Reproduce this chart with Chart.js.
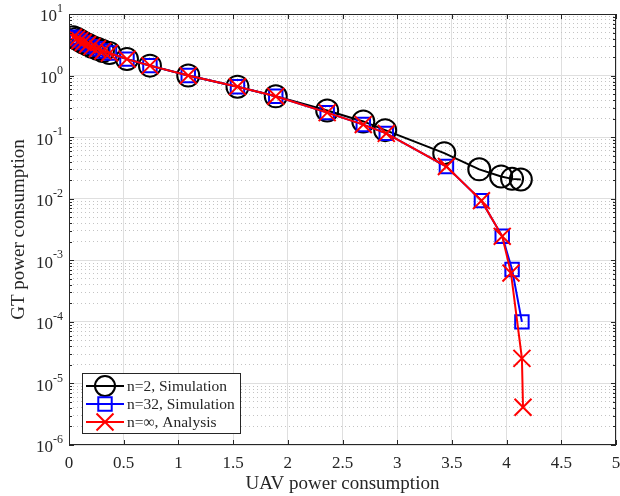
<!DOCTYPE html>
<html>
<head>
<meta charset="utf-8">
<script src="https://cdn.jsdelivr.net/npm/chart.js@4"></script>
<style>
  html, body { margin: 0; padding: 0; background: #fff; }
  #wrap { width: 620px; height: 496px; }
</style>
</head>
<body>
<div id="wrap"><canvas id="myChart" width="620" height="496"></canvas></div>
<script>
// values
const uavN2 = [0.04, 0.07, 0.10, 0.13, 0.17, 0.21, 0.26, 0.31, 0.37, 0.53, 0.74, 1.09, 1.54, 1.89, 2.36, 2.69, 2.89, 3.43, 3.75, 3.95, 4.05, 4.13];
const gtN2 = [4.2, 3.95, 3.7, 3.45, 3.2, 2.95, 2.72, 2.5, 2.32, 1.85, 1.45, 1.0, 0.66, 0.46, 0.27, 0.18, 0.13, 0.055, 0.030, 0.023, 0.021, 0.0205];

const uavN32 = [0.04, 0.07, 0.10, 0.13, 0.17, 0.21, 0.26, 0.31, 0.37, 0.53, 0.74, 1.09, 1.54, 1.89, 2.36, 2.69, 2.90, 3.45, 3.77, 3.96, 4.05, 4.14];
const gtN32 = [4.2, 3.95, 3.7, 3.45, 3.2, 2.95, 2.72, 2.5, 2.32, 1.85, 1.45, 1.0, 0.66, 0.46, 0.25, 0.16, 0.115, 0.0333, 0.0093, 0.00245, 0.00071, 0.0001];

const uavInf = [0.04, 0.07, 0.10, 0.13, 0.17, 0.21, 0.26, 0.31, 0.37, 0.53, 0.74, 1.09, 1.54, 1.89, 2.36, 2.69, 2.90, 3.45, 3.77, 3.96, 4.04, 4.14, 4.15];
const gtInf = [4.2, 3.95, 3.7, 3.45, 3.2, 2.95, 2.72, 2.5, 2.32, 1.85, 1.45, 1.0, 0.66, 0.46, 0.25, 0.16, 0.115, 0.0333, 0.0093, 0.00245, 0.00062, 0.0000255, 0.0000041];

const xTicks = [0, 0.5, 1, 1.5, 2, 2.5, 3, 3.5, 4, 4.5, 5];
const yDecades = [-6, -5, -4, -3, -2, -1, 0, 1];
const legendLabels = ['n=2, Simulation', 'n=32, Simulation', 'n=\u221e, Analysis'];

const serif = '"Liberation Serif", "Times New Roman", serif';
const axisColor = '#262626';

function pts(xs, ys) {
  return xs.map((x, i) => ({x: x, y: ys[i]}));
}

function isDecade(v) {
  const l = Math.log10(v);
  return Math.abs(l - Math.round(l)) < 1e-9;
}

const series = [
  {label: legendLabels[2], data: pts(uavInf, gtInf), color: '#ff0000', style: 'crossRot', radius: 12},
  {label: legendLabels[1], data: pts(uavN32, gtN32), color: '#0000ff', style: 'rect', radius: 9.5},
  {label: legendLabels[0], data: pts(uavN2, gtN2), color: '#000000', style: 'circle', radius: 11}
];

const decorations = {
  id: 'decorations',
  afterDatasetsDraw(chart) {
    const c = chart.ctx;
    const a = chart.chartArea;
    const xs = chart.scales.x, ys = chart.scales.y;
    c.save();
    // box
    c.strokeStyle = axisColor;
    c.lineWidth = 1;
    c.strokeRect(a.left + 0.5, a.top + 0.5, a.right - a.left - 1, a.bottom - a.top - 1);
    // inner ticks
    c.beginPath();
    xTicks.forEach(v => {
      const px = Math.round(xs.getPixelForValue(v)) + 0.5;
      c.moveTo(px, a.bottom); c.lineTo(px, a.bottom - 5);
      c.moveTo(px, a.top); c.lineTo(px, a.top + 5);
    });
    ys.ticks.forEach(t => {
      const py = Math.round(ys.getPixelForValue(t.value)) + 0.5;
      const len = isDecade(t.value) ? 5 : 3;
      c.moveTo(a.left, py); c.lineTo(a.left + len, py);
      c.moveTo(a.right, py); c.lineTo(a.right - len, py);
    });
    c.stroke();

    // y tick labels 10^n
    c.fillStyle = axisColor;
    c.textBaseline = 'middle';
    yDecades.forEach(e => {
      const py = ys.getPixelForValue(Math.pow(10, e));
      const ex = String(e);
      c.font = '12px ' + serif;
      const ew = c.measureText(ex).width;
      const xr = a.left - 6;
      c.textAlign = 'left';
      c.fillText(ex, xr - ew, py - 5);
      c.font = '17px ' + serif;
      c.textAlign = 'right';
      c.fillText('10', xr - ew, py + 3);
    });

    // axis titles
    c.font = '19px ' + serif;
    c.textAlign = 'center';
    c.fillText('UAV power consumption', (a.left + a.right) / 2, 484);
    c.save();
    c.translate(19, (a.top + a.bottom) / 2);
    c.rotate(-Math.PI / 2);
    c.fillText('GT power consumption', 0, 0);
    c.restore();

    // legend
    const lx = a.left + 13, lw = 158, lh = 60;
    const ly = a.bottom - 12 - lh;
    c.fillStyle = '#ffffff';
    c.fillRect(lx, ly, lw, lh);
    c.strokeStyle = axisColor;
    c.lineWidth = 1;
    c.strokeRect(lx + 0.5, ly + 0.5, lw, lh);
    const rows = [series[2], series[1], series[0]];
    rows.forEach((s, i) => {
      const cy = ly + 13 + i * 18;
      c.strokeStyle = s.color;
      c.lineWidth = 2;
      c.beginPath();
      c.moveTo(lx + 4, cy); c.lineTo(lx + 42, cy);
      c.stroke();
      c.fillStyle = 'rgba(0,0,0,0)';
      Chart.helpers.drawPoint(c, {
        pointStyle: s.style, radius: s.style === 'circle' ? 10 : s.radius,
        borderWidth: 2, rotation: 0
      }, lx + 23, cy);
      c.fillStyle = axisColor;
      c.font = '15.5px ' + serif;
      c.textAlign = 'left';
      c.fillText(s.label, lx + 45, cy + 1);
    });
    c.restore();
  }
};

new Chart(document.getElementById('myChart'), {
  type: 'scatter',
  data: {
    datasets: series.map(s => ({
      label: s.label,
      data: s.data,
      showLine: true,
      borderColor: s.color,
      backgroundColor: 'rgba(0,0,0,0)',
      borderWidth: 2,
      pointStyle: s.style,
      pointRadius: s.radius,
      pointBorderWidth: 2,
      pointBorderColor: s.color,
      pointBackgroundColor: 'rgba(0,0,0,0)',
      tension: 0
    }))
  },
  options: {
    responsive: false,
    animation: false,
    layout: {autoPadding: false, padding: {top: 14, right: 4, left: 0, bottom: 0}},
    plugins: {legend: {display: false}, tooltip: {enabled: false}},
    scales: {
      x: {
        type: 'linear',
        min: 0, max: 5,
        afterFit: s => { s.height = 51; s.paddingLeft = 0; s.paddingRight = 0; },
        afterBuildTicks: s => { s.ticks = xTicks.map(v => ({value: v})); },
        grid: {color: '#dfdfdf', lineWidth: 1, drawTicks: false},
        border: {display: false},
        ticks: {
          color: axisColor, padding: 8, autoSkip: false, maxRotation: 0,
          font: {family: serif, size: 17},
          callback: v => String(v)
        }
      },
      y: {
        type: 'logarithmic',
        min: 1e-6, max: 10,
        afterFit: s => { s.width = 69; s.paddingTop = 0; s.paddingBottom = 0; },
        afterBuildTicks: s => {
          const t = [];
          for (let e = -6; e <= 0; e++) {
            for (let m = 1; m <= 9; m++) t.push({value: m * Math.pow(10, e)});
          }
          t.push({value: 10});
          s.ticks = t;
        },
        grid: {
          drawTicks: false,
          color: ctx => isDecade(ctx.tick.value) ? '#dfdfdf' : '#c4c4c4',
          lineWidth: 1
        },
        border: {
          display: false,
          dash: ctx => (ctx.tick && !isDecade(ctx.tick.value)) ? [1, 3] : []
        },
        ticks: {display: false, autoSkip: false}
      }
    }
  },
  plugins: [decorations]
});
</script>
</body>
</html>
